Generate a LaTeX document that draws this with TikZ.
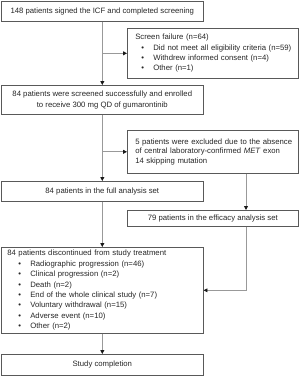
\documentclass[tikz,border=0pt]{standalone}
\usepackage{fontspec}
\setmainfont{Liberation Sans}
\usetikzlibrary{arrows.meta}
\begin{document}
\begin{tikzpicture}[
            x=1pt, y=-1pt,
            box/.style={draw=black!65,line width=0.6pt,rectangle,anchor=north west,inner sep=0pt,text=black!85,font=\fontsize{7.75}{10.4}\selectfont},
            cbox/.style={box,align=center,minimum width=202pt},
            lbox/.style={box,align=left,inner xsep=3pt,text width=165pt},
            flow/.style={draw=black!40,line width=0.8pt,-{Triangle[length=3.8pt,width=3.8pt,color=black!90]}},
        ]

        \newcommand{\hd}{\hspace*{5pt}}
        \newcommand{\bitem}[1]{\hspace*{11pt}\makebox[12pt][l]{\textbullet}#1}

        \useasboundingbox (0,0) rectangle (300,376);

        \node[cbox,minimum height=20pt] (signed) at (1,1) {148 patients signed the ICF and completed screening};
        \node[lbox,minimum height=50pt] (fail) at (127,28) {\hd Screen failure (n=64)\\
            \bitem{Did not meet all eligibility criteria (n=59)}\\
            \bitem{Withdrew informed consent (n=4)}\\
            \bitem{Other (n=1)}};
        \node[cbox,minimum height=29pt] (enrol) at (1,85) {84 patients were screened successfully and enrolled\\ to receive 300 mg QD of gumarontinib};
        \node[lbox,minimum height=43pt,font=\fontsize{7.75}{9.8}\selectfont] (excl) at (127,130) {\hd 5 patients were excluded due to the absence\\ \hd of central laboratory-confirmed \textit{MET} exon\\ \hd 14 skipping mutation};
        \node[cbox,minimum height=20pt] (fas) at (1,181) {84 patients in the full analysis set};
        \node[box,align=center,minimum width=171pt,minimum height=16pt] (eff) at (127,210) {79 patients in the efficacy analysis set};
        \node[box,align=left,inner xsep=6pt,text width=190pt,minimum height=86pt] (disc) at (1,247) {84 patients discontinued from study treatment\\
            \bitem{Radiographic progression (n=46)}\\
            \bitem{Clinical progression (n=2)}\\
            \bitem{Death (n=2)}\\
            \bitem{End of the whole clinical study (n=7)}\\
            \bitem{Voluntary withdrawal (n=15)}\\
            \bitem{Adverse event (n=10)}\\
            \bitem{Other (n=2)}};
        \node[cbox,minimum height=21pt] (done) at (1,354) {Study completion};

        \coordinate (effx) at (246,0);

        \draw[flow] (signed) -- (enrol);
        \draw[flow] (signed.south |- fail.west) -- (fail.west);
        \draw[flow] (enrol) -- (fas);
        \draw[flow] (enrol.south |- excl.west) -- (excl.west);
        \draw[flow] (excl.south -| effx) -- (eff.north -| effx);
        \draw[flow] (eff.south -| effx) |- (disc.east);
        \draw[flow] (fas) -- (disc);
        \draw[flow] (disc) -- (done);

    \end{tikzpicture}
\end{document}
